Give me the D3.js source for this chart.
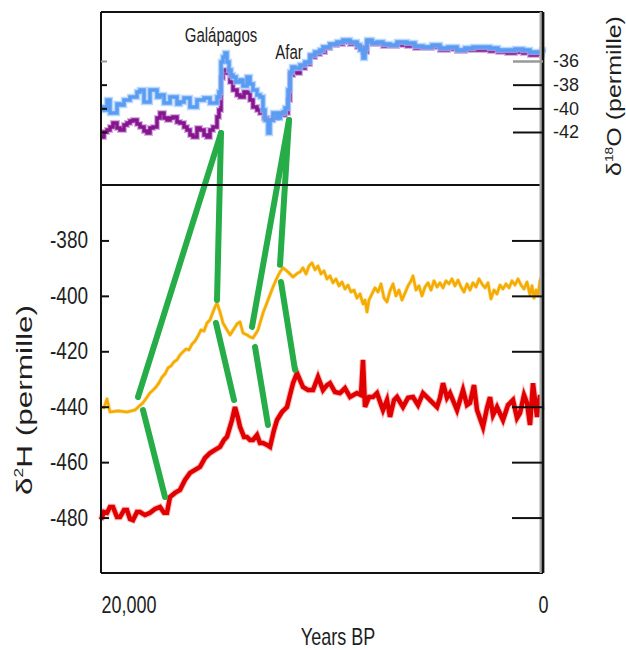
<!DOCTYPE html>
<html><head><meta charset="utf-8">
<script src="https://cdn.jsdelivr.net/npm/d3@7"></script>
<style>
body{margin:0;background:#fff}
text{font-family:"Liberation Sans",Arial,sans-serif;fill:#1e1e1e}
</style>
</head><body><svg id="c" width="626" height="650"></svg>
<script>
// ---------- data ----------
const blueYears = [20000,19864,19728,19593,19457,19276,19140,18959,18824,18688,18552,18371,18235,18054,17918,17783,17647,17466,17330,17149,17014,16878,16742,16561,16425,16244,16109,15973,15837,15656,15520,15339,15204,15068,14932,14751,14661,14570,14480,14389,14299,14208,14118,14027,13891,13710,13575,13394,13258,13122,12941,12805,12670,12579,12443,12353,12217,12036,11900,11765,11674,11538,11448,11357,11222,10995,10769,10543,10317,10090,9955,9638,9321,9050,8733,8416,8281,8145,8054,7964,7738,7511,7240,6923,6606,6154,5792,5430,5023,4661,4299,3891,3529,3167,2805,2398,2036,1629,1267,905,588,271,45,0];
const blueD18O = [-39.89,-40.14,-39.30,-40.40,-40.40,-39.63,-39.72,-39.30,-39.30,-39.04,-39.04,-38.62,-38.45,-39.47,-39.47,-38.45,-38.45,-39.04,-38.87,-39.55,-39.55,-39.04,-39.04,-39.63,-39.47,-39.13,-39.13,-39.89,-39.89,-39.30,-39.30,-39.13,-39.13,-39.55,-39.55,-39.04,-38.62,-36.08,-35.66,-35.32,-36.08,-36.76,-37.18,-37.35,-37.78,-37.61,-38.11,-37.35,-37.94,-38.45,-38.87,-39.04,-40.14,-40.99,-42.09,-40.99,-40.40,-40.82,-40.40,-40.31,-39.97,-38.45,-36.93,-36.51,-36.59,-36.34,-36.08,-35.49,-35.24,-35.07,-34.82,-34.56,-34.39,-34.22,-34.39,-34.65,-35.07,-35.75,-34.90,-34.22,-34.48,-34.39,-34.56,-34.65,-34.39,-34.48,-34.73,-34.82,-34.65,-34.90,-34.82,-35.07,-34.90,-34.82,-34.82,-34.90,-35.07,-35.07,-34.99,-35.07,-35.24,-35.24,-35.07,-35.20];

const purpleYears = [20000,19864,19728,19593,19457,19276,19140,18959,18824,18688,18552,18371,18235,18054,17918,17783,17647,17466,17330,17149,17014,16878,16742,16561,16425,16244,16109,15973,15837,15656,15520,15339,15204,15068,14932,14751,14661,14570,14480,14299,14163,14027,13846,13710,13529,13394,13258,13122,12941,12805,12624,12489,12353,12217,12036,11900,11674,11538,11448,11312,11131,10995,10769,10543,10317,10090,9864,9638,9321,9050,8733,8416,8145,7964,7738,7511,7240,6923,6606,6154,5792,5430,5023,4661,4299,3891,3529,3167,2805,2398,2036,1629,1267,905,588,271,45,0];
const purpleD18O = [-42.42,-42.00,-41.83,-41.58,-41.24,-41.66,-41.83,-41.41,-41.24,-41.07,-40.99,-41.33,-41.58,-41.92,-42.09,-41.66,-41.58,-40.82,-40.40,-40.82,-40.99,-40.82,-40.73,-41.16,-41.24,-41.58,-41.83,-42.26,-42.42,-41.66,-41.83,-42.26,-42.42,-41.83,-41.58,-40.73,-40.14,-37.44,-36.76,-37.01,-37.78,-38.45,-38.87,-39.04,-38.62,-38.70,-39.30,-39.89,-40.14,-40.40,-40.82,-40.99,-40.99,-40.82,-40.73,-40.56,-40.40,-39.30,-37.18,-36.93,-37.01,-36.59,-36.25,-35.66,-35.41,-35.24,-34.90,-34.65,-34.56,-34.39,-34.56,-34.82,-35.24,-34.39,-34.56,-34.56,-34.73,-34.73,-34.65,-34.73,-34.90,-34.90,-34.82,-35.07,-34.99,-35.16,-35.07,-35.07,-35.07,-35.16,-35.24,-35.32,-35.24,-35.32,-35.49,-35.41,-35.24,-35.30];

const yellowYears = [20000,19864,19728,19593,19231,18824,18462,18100,
  18009,17783,17647,17511,17376,17240,17104,16968,16833,16697,16561,16425,16290,16154,16018,15882,15747,15611,15475,15339,15204,15068,14932,14842,
  14751,14615,14480,14299,14163,13982,13846,13710,13575,13394,13258,13122,12896,12670,12443,12217,12036,11900,11765,11538,11312,11086,
  10995,10860,10724,10588,10453,10317,10181,10045,9910,9774,
  9638,9502,9367,9231,9095,8959,8824,8688,8552,8416,
  8281,8145,8054,7964,7873,7738,7602,7466,7330,7195,
  7059,6923,6787,6652,6516,6380,6244,6109,5973,5882,
  5747,5611,5475,5339,5204,5068,4932,4796,4661,4525,
  4389,4253,4118,3982,3846,3710,3575,3439,3303,3167,
  3032,2896,2760,2624,2489,2353,2217,2081,1946,1810,
  1674,1538,1403,1267,1131,995,860,724,588,498,
  407,317,226,136,0];
const yellowD2H = [-440.1,-440.4,-437.2,-441.9,-441.5,-441.9,-441.2,-438.6,
  -437.6,-435.0,-434.0,-432.9,-431.4,-429.3,-428.2,-426.0,-425.3,-423.8,-423.1,-421.3,-420.2,-419.2,-419.5,-417.4,-416.3,-414.5,-412.3,-412.7,-409.8,-408.7,-405.8,-404.0,
  -402.6,-405.8,-409.8,-412.3,-414.1,-411.9,-410.1,-409.4,-413.4,-414.1,-414.8,-415.2,-412.3,-406.2,-401.5,-396.8,-393.5,-391.4,-389.9,-391.4,-393.2,-391.7,
  -391.4,-389.9,-392.1,-389.2,-388.1,-390.6,-389.2,-392.1,-391.0,-393.9,
  -392.8,-395.3,-393.9,-396.4,-395.0,-397.5,-396.1,-398.6,-397.9,-400.8,
  -399.3,-402.9,-401.5,-405.8,-401.5,-399.3,-397.1,-398.6,-395.7,-400.8,
  -402.2,-398.2,-395.7,-400.0,-397.9,-401.5,-399.0,-396.4,-394.6,-392.8,
  -397.9,-396.4,-400.0,-396.8,-395.3,-397.9,-394.6,-396.8,-395.3,-397.1,
  -394.6,-395.7,-393.9,-396.4,-394.3,-396.8,-398.6,-395.7,-397.9,-395.3,
  -396.8,-393.9,-395.7,-397.1,-395.3,-401.1,-397.9,-399.3,-396.1,-397.5,
  -395.7,-397.1,-394.6,-396.1,-393.9,-396.1,-397.5,-395.0,-399.7,-396.4,
  -400.8,-397.9,-400.0,-394.6,-391.7];

const redYears = [20000,19864,19728,19593,19457,19276,19140,18959,18824,18688,18552,18371,18235,18009,17783,17557,17330,17149,17014,16878,16652,16425,16199,15973,15747,15520,15294,15068,14842,14615,14434,14299,14072,13937,13801,13710,13529,13394,13258,13122,12941,12805,12670,12489,12353,12172,12036,11810,11584,11448,11312,11131,10995,10860,10633,10407,10181,9955,9774,9638,9412,9186,8959,8733,8416,8235,8145,8054,7873,7692,7511,7240,7059,6923,6742,6606,6335,6109,5882,5656,5430,5113,4796,4661,4525,4344,4208,3891,3620,3439,3303,3122,2986,2715,2534,2398,2262,2081,1810,1584,1357,1176,1041,860,724,588,452,271,136,45];
const redD2H = [-480.8,-478.0,-478.3,-476.2,-476.2,-479.8,-479.8,-477.3,-477.3,-480.5,-480.9,-478.0,-478.0,-479.1,-478.3,-476.9,-476.2,-478.3,-478.3,-472.6,-471.1,-470.0,-466.4,-463.9,-462.8,-461.7,-458.5,-456.7,-455.6,-454.5,-452.0,-450.9,-444.8,-440.1,-444.1,-447.3,-450.9,-450.9,-452.0,-452.0,-450.2,-453.1,-453.1,-453.8,-454.5,-448.4,-444.8,-441.9,-440.1,-435.8,-431.5,-427.9,-430.4,-432.9,-434.0,-434.0,-429.3,-434.0,-432.2,-431.5,-434.7,-435.1,-433.3,-436.5,-435.1,-435.8,-423.1,-440.1,-436.5,-436.5,-435.1,-441.2,-437.6,-443.7,-437.6,-436.5,-440.1,-436.8,-436.5,-439.4,-435.1,-437.6,-440.1,-436.8,-431.5,-436.8,-435.1,-441.2,-434.0,-439.4,-438.6,-432.2,-441.2,-447.3,-440.5,-436.5,-443.0,-440.1,-444.8,-439.4,-437.6,-444.1,-442.3,-435.8,-438.6,-446.6,-431.5,-443.7,-435.8,-441.2];

// green connectors between matching features
const connFromYear  = [14570, 14570, 14796, 18100, 11493, 11493, 13032, 11855];
const connFromPanel = ["top","top","bottom","bottom","top","top","bottom","bottom"];
const connFromValue = [-42.09,-42.09,-409.8,-441.2,-40.99,-40.99,-418.4,-395.0];
const connToYear    = [18326, 14751, 13982, 17104, 13167, 11900, 12443, 11222];
const connToValue   = [-436.5,-401.5,-437.6,-472.6,-411.2,-388.8,-446.6,-426.7];

const d2HTicks = [-380,-400,-420,-440,-460,-480];
const d18OTicks = [-36,-38,-40,-42];
const yearTicks = [20000, 0];
const yearTickLabels = ["20,000", "0"];
const annotYears = [14570, 11493];
const annotLabels = ["Galápagos", "Afar"];
const annotD18O = [-34.40, -35.83];

// ---------- layout ----------
const svg = d3.select("#c");
const L = 101, R = 543, T = 12, MID = 185, B = 573;
const SY = 1.3; // vertical stretch of the lettering
const x = d3.scaleLinear().domain([20000, 0]).range([L, R]);
const yTop = d3.scaleLinear().domain([-31.86, -46.48]).range([T, MID]);
const yBot = d3.scaleLinear().domain([-360, -500]).range([MID, B]);
const zip = (a, b) => d3.zip(a, b);

// top panel series
const lineTop = d3.line().x(d => x(d[0])).y(d => yTop(d[1])).curve(d3.curveStepAfter);
svg.append("path").datum(zip(purpleYears, purpleD18O)).attr("d", lineTop)
  .attr("fill","none").attr("stroke","#b050c0").attr("stroke-width",6).attr("stroke-opacity",0.45);
svg.append("path").datum(zip(purpleYears, purpleD18O)).attr("d", lineTop)
  .attr("fill","none").attr("stroke","#86168f").attr("stroke-width",3.5);
svg.append("path").datum(zip(blueYears, blueD18O)).attr("d", lineTop)
  .attr("fill","none").attr("stroke","#9cc8ff").attr("stroke-width",6.5).attr("stroke-opacity",0.7);
svg.append("path").datum(zip(blueYears, blueD18O)).attr("d", lineTop)
  .attr("fill","none").attr("stroke","#5a9cf2").attr("stroke-width",3.5);

// bottom panel series
const lineBot = d3.line().x(d => x(d[0])).y(d => yBot(d[1]));
svg.append("path").datum(zip(yellowYears, yellowD2H)).attr("d", lineBot)
  .attr("fill","none").attr("stroke","#f7c040").attr("stroke-width",4).attr("stroke-opacity",0.45).attr("stroke-linejoin","round");
svg.append("path").datum(zip(yellowYears, yellowD2H)).attr("d", lineBot)
  .attr("fill","none").attr("stroke","#f4ac00").attr("stroke-width",2.6).attr("stroke-linejoin","round");
svg.append("path").datum(zip(redYears, redD2H)).attr("d", lineBot)
  .attr("fill","none").attr("stroke","#f04040").attr("stroke-width",6.5).attr("stroke-opacity",0.35);
svg.append("path").datum(zip(redYears, redD2H)).attr("d", lineBot)
  .attr("fill","none").attr("stroke","#e00000").attr("stroke-width",4.5).attr("stroke-linejoin","miter");

// green connectors
const py = (panel, v) => panel === "top" ? yTop(v) : yBot(v);
svg.append("g").selectAll("line").data(d3.range(connFromYear.length)).join("line")
  .attr("x1", i => x(connFromYear[i])).attr("y1", i => py(connFromPanel[i], connFromValue[i]))
  .attr("x2", i => x(connToYear[i])).attr("y2", i => yBot(connToValue[i]))
  .attr("stroke","#26ad48").attr("stroke-width",6).attr("stroke-linecap","round");

// frame
svg.append("line").attr("x1",L).attr("x2",L).attr("y1",T).attr("y2",B).attr("stroke","#111").attr("stroke-width",2);
svg.append("line").attr("x1",L).attr("x2",R).attr("y1",T).attr("y2",T).attr("stroke","#111").attr("stroke-width",2);
svg.append("line").attr("x1",L).attr("x2",R).attr("y1",B).attr("y2",B).attr("stroke","#111").attr("stroke-width",2);
svg.append("line").attr("x1",L).attr("x2",R).attr("y1",MID).attr("y2",MID).attr("stroke","#111").attr("stroke-width",2);
svg.append("line").attr("x1",R-1).attr("x2",R-1).attr("y1",T).attr("y2",B).attr("stroke","#aaa").attr("stroke-width",5);
svg.append("line").attr("x1",R).attr("x2",R).attr("y1",T).attr("y2",B).attr("stroke","#111").attr("stroke-width",2.5);

// axes
const fmt = d => String(d);
const gL = svg.append("g").attr("transform",`translate(${L},0)`)
  .call(d3.axisLeft(yBot).tickValues(d2HTicks).tickSize(-8).tickPadding(13).tickFormat(fmt));
const gR = svg.append("g").attr("transform",`translate(${R},0)`)
  .call(d3.axisRight(yBot).tickValues(d2HTicks).tickSize(-31).tickFormat(""));
const gTL = svg.append("g").attr("transform",`translate(${L},0)`)
  .call(d3.axisLeft(yTop).tickValues(d18OTicks).tickSize(-6).tickFormat(""));
const gTR = svg.append("g").attr("transform",`translate(${R},0)`)
  .call(d3.axisRight(yTop).tickValues(d18OTicks).tickSize(-30).tickPadding(10).tickFormat(fmt));
const gX = svg.append("g").attr("transform",`translate(0,${B})`)
  .call(d3.axisBottom(x).tickValues(yearTicks).tickSize(0).tickFormat((d,i) => yearTickLabels[i]));
[gL,gR,gTL,gTR,gX].forEach(g => {
  g.select(".domain").remove();
  g.selectAll(".tick line").attr("stroke","#111").attr("stroke-width",2);
  g.selectAll(".tick text").attr("font-family","Liberation Sans, Arial, sans-serif").attr("fill","#1e1e1e");
});
gTL.selectAll(".tick line").filter(d => d === -36).attr("stroke","#999");
gTR.selectAll(".tick line").filter(d => d === -36).attr("stroke","#999").attr("stroke-width",2.5);
gL.selectAll(".tick text").attr("font-size",19).attr("transform",`scale(1,${SY*0.95})`);
gTR.selectAll(".tick text").attr("font-size",18).attr("transform","scale(1,1.04)");
gX.selectAll(".tick text").attr("font-size",18).attr("y",0).attr("dy",0)
  .attr("transform",`translate(0,40) scale(1,${SY})`)
  .attr("text-anchor",(d) => d === 20000 ? "start" : "middle");

// axis titles
svg.append("text").attr("transform",`translate(338,645) scale(1,${SY})`).attr("text-anchor","middle").attr("font-size",18).text("Years BP");

function rotTitle(cx, cy, size, sup, rest, target) {
  const t = svg.append("text").attr("text-anchor","middle").attr("font-size",size);
  t.append("tspan").text("δ");
  t.append("tspan").attr("font-size",size*0.55).attr("dy",-size*0.4).text(sup);
  t.append("tspan").attr("dy",size*0.4).text(rest);
  const w = t.node().getBBox().width;
  t.attr("transform",`translate(${cx},${cy}) rotate(-90) scale(${target/w},1)`);
}
rotTitle(32, 400, 22, "2", "H (permille)", 190);
rotTitle(621, 96, 21, "18", "O (permille)", 160);

// annotations
svg.append("g").selectAll("text").data(annotLabels).join("text")
  .attr("transform",(d,i) => `translate(${x(annotYears[i])},${yTop(annotD18O[i])}) scale(1,${SY})`)
  .attr("text-anchor","middle").attr("font-size",15).text(d => d);
</script></body></html>
